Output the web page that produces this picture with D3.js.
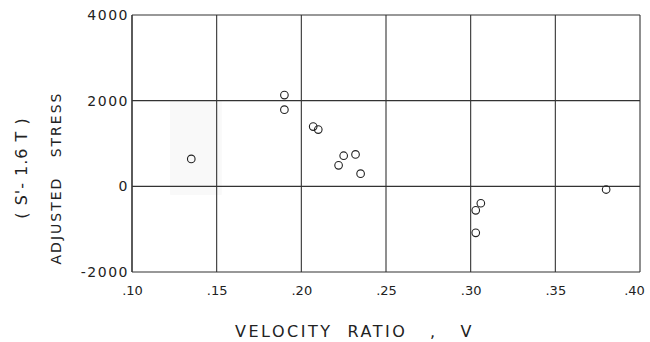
<!DOCTYPE html>
<html><head><meta charset="utf-8">
<script src="https://cdn.jsdelivr.net/npm/d3@7"></script>
<style>body{margin:0;background:#fff}svg{display:block}text{font-family:"DejaVu Sans",sans-serif;fill:#222;white-space:pre}</style>
</head><body>
<svg id="c" width="650" height="342"></svg>
<script>
const velocityRatio = [0.135, 0.190, 0.190, 0.207, 0.210, 0.225, 0.232, 0.222, 0.235, 0.306, 0.303, 0.303, 0.380];
const adjustedStress = [640, 2130, 1790, 1395, 1325, 715, 745, 490, 295, -395, -560, -1085, -75];
const xTicks = [0.10, 0.15, 0.20, 0.25, 0.30, 0.35, 0.40];
const xTickLabels = [".10", ".15", ".20", ".25", ".30", ".35", ".40"];
const yTicks = [-2000, 0, 2000, 4000];
const yTickLabels = ["-2000", "0", "2000", "4000"];

const svg = d3.select("#c");
const x = d3.scaleLinear().domain([0.10, 0.40]).range([132, 640]);
const y = d3.scaleLinear().domain([-2000, 4000]).range([272, 15]);

// faint scan shading
svg.append("rect").attr("x", x(0.1225)).attr("y", y(2000)).attr("width", x(0.153)-x(0.1225)).attr("height", y(-200)-y(2000)).attr("fill", "#f9f9f9");

const g = svg.append("g");
g.selectAll("line.v").data(xTicks).join("line").attr("class","v")
  .attr("x1", d=>x(d)).attr("x2", d=>x(d)).attr("y1", y(4000)).attr("y2", y(-2000))
  .attr("stroke", "#333").attr("stroke-width", d => (d===0.10?1.6:1.1));
g.selectAll("line.h").data(yTicks).join("line").attr("class","h")
  .attr("y1", d=>y(d)).attr("y2", d=>y(d)).attr("x1", x(0.10)).attr("x2", x(0.40))
  .attr("stroke", "#333").attr("stroke-width", 1.2);

const xAxis = d3.axisBottom(x).tickValues(xTicks).tickFormat((d,i)=>xTickLabels[i]).tickSize(0).tickPadding(14);
svg.append("g").attr("transform", `translate(0,${y(-2000)})`).call(xAxis)
  .call(s=>s.select(".domain").remove())
  .call(s=>s.selectAll("text").attr("font-size", 13).attr("fill","#222")
    .attr("dx", (d,i)=> i===xTicks.length-1 ? -6 : 0));
const yAxis = d3.axisLeft(y).tickValues(yTicks).tickFormat((d,i)=>yTickLabels[i]).tickSize(0).tickPadding(3);
svg.append("g").attr("transform", `translate(${x(0.10)},0)`).call(yAxis)
  .call(s=>s.select(".domain").remove())
  .call(s=>s.selectAll("text").attr("font-size", 14).attr("fill","#222").attr("letter-spacing", 1.5));

svg.selectAll("circle.p").data(velocityRatio).join("circle").attr("class","p")
  .attr("cx", d=>x(d)).attr("cy", (d,i)=>y(adjustedStress[i])).attr("r", 3.8)
  .attr("fill", "none").attr("stroke", "#222").attr("stroke-width", 1.1);

svg.append("text").attr("x", 235).attr("y", 337)
  .attr("font-size", 16).attr("letter-spacing", 2.5).text("VELOCITY  RATIO   ,   V");
svg.append("text").attr("transform","translate(61,178) rotate(-90)").attr("text-anchor","middle")
  .attr("font-size", 14).attr("letter-spacing", 2).text("ADJUSTED   STRESS");
svg.append("text").attr("transform","translate(27,168) rotate(-90)").attr("text-anchor","middle")
  .attr("font-size", 16).attr("letter-spacing", 1).text("( S'- 1.6 T )");
</script>
</body></html>
